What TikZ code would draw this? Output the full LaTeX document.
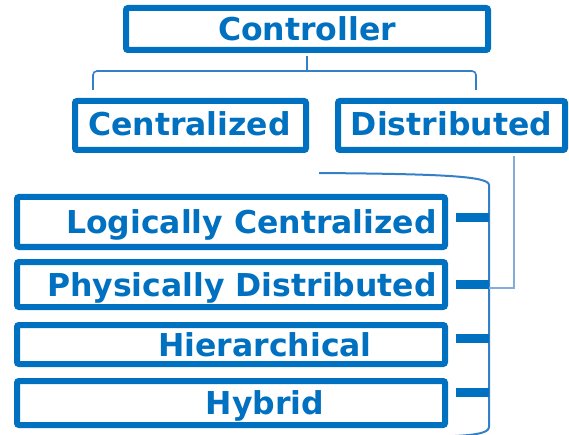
\documentclass[tikz,border=0pt]{standalone}
\usepackage{fontspec}
\setmainfont{DejaVu Sans}
\definecolor{boxblue}{RGB}{0,112,192}
\definecolor{linkblue}{RGB}{52,128,200}
\definecolor{paleblue}{RGB}{130,172,220}
\begin{document}
\begin{tikzpicture}[x=1pt,y=-1pt,
  box/.style={draw=boxblue, line width=6pt, rounded corners=2pt, inner sep=0pt, fill=white},
  lbl/.style={text=boxblue, font=\fontsize{31.5}{36}\selectfont\bfseries, inner sep=0pt, anchor=base},
  link/.style={draw=linkblue, line width=1.6pt, rounded corners=4pt},
  bracket/.style={draw=linkblue, line width=2pt},
  thinlink/.style={draw=paleblue, line width=1.2pt},
  stub/.style={draw=boxblue, line width=9pt}]
\useasboundingbox (0,0) rectangle (569,435);

% top level
\node[box, minimum width=362pt, minimum height=42pt] (ctrl) at (307,29) {};
\node[lbl] (ctrlT) at (307,41) {Controller};

% second level
\node[box, minimum width=231pt, minimum height=49pt] (cent) at (190.5,125.5) {};
\node[lbl] (centT) at (189.5,136) {Centralized};
\node[box, minimum width=227pt, minimum height=49pt] (dist) at (451.5,125.5) {};
\node[lbl] (distT) at (451.5,136) {Distributed};

% tree from Controller to the two classes
\draw[link] ([yshift=-3pt]ctrl.south) -- ++(0,15) coordinate (j);
\draw[link] ([shift={(-97.5,-8)}]cent.north) |- (j) -| ([shift={(24.5,-8)}]dist.north);

% third level
\node[box, minimum width=428pt, minimum height=50pt] (logi) at (231,222) {};
\node[lbl, anchor=base east] (logiT) at (437,233.5) {Logically Centralized};
\node[box, minimum width=428pt, minimum height=45pt] (phys) at (231,284.5) {};
\node[lbl, anchor=base east] (physT) at (437,296) {Physically Distributed};
\node[box, minimum width=428pt, minimum height=39pt] (hier) at (231,344.5) {};
\node[lbl] (hierT) at (265,356) {Hierarchical};
\node[box, minimum width=428pt, minimum height=44pt] (hyb) at (231,403) {};
\node[lbl] (hybT) at (265,414.5) {Hybrid};

% bracket gathering the third level
\coordinate (bt) at (319,173);
\coordinate (tr) at (489,185);
\coordinate (br) at (489,427);
\coordinate (bb) at (455,436);
\draw[bracket] (bt) .. controls (440,174) and (489,176) .. (tr) -- (br)
  .. controls (489,433) and (475,435) .. (bb);

% link from Distributed into the bracket
\coordinate (dl) at (489,288);
\draw[thinlink] ([shift={(62.5,3)}]dist.south) |- (dl);

% stubs from each box to the bracket
\coordinate (s1) at ([shift={(8,-4)}]logi.east);
\coordinate (s2) at ([shift={(8,-0.5)}]phys.east);
\coordinate (s3) at ([shift={(8,-6.5)}]hier.east);
\coordinate (s4) at ([shift={(8,-11)}]hyb.east);
\foreach \s in {s1,s2,s3,s4}
  \draw[stub] (\s) -- (\s -| tr);
\end{tikzpicture}
\end{document}
